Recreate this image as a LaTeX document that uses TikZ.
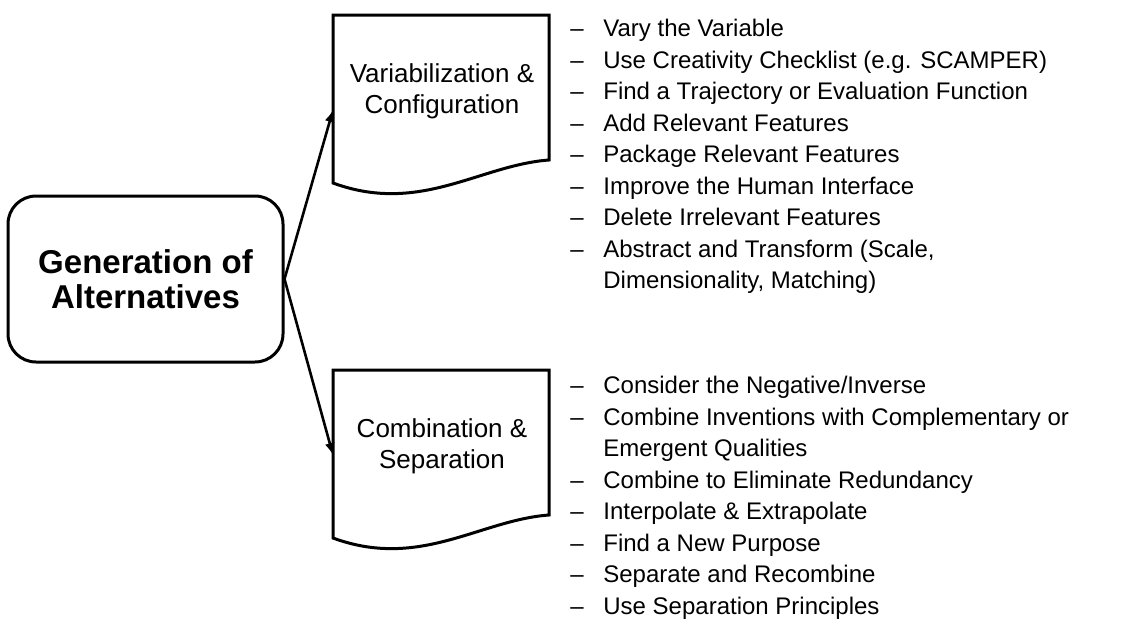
\documentclass[tikz,border=0pt]{standalone}
\usepackage{fontspec}
\setmainfont{Liberation Sans}
\usetikzlibrary{arrows.meta}

\tikzset{
  genbox/.style={draw,line width=1.5pt,rounded corners=14pt,minimum width=137.5pt,minimum height=83pt,align=center,font=\fontsize{16.5}{17.5}\selectfont\bfseries},
  docline/.style={line width=1.5pt},
  doctext/.style={align=center,font=\fontsize{13}{15.5}\selectfont},
  listtext/.style={align=left,inner sep=0pt,anchor=north west,font=\fontsize{12}{15.75}\selectfont},
  arr/.style={line width=1.3pt,-{Latex[length=6pt,width=5pt]}}
}
\newcommand{\dashitem}{\makebox[16.5pt][l]{–}}
\newcommand{\contitem}{\makebox[16.5pt][l]{}}

\begin{document}
\begin{tikzpicture}[x=0.5pt,y=-0.5pt]
\useasboundingbox (0,0) rectangle (1126,618);
\node[genbox] (gen) at (145.5,279) {Generation of\\Alternatives};
% document shapes
\foreach \t in {15,370}
  \draw[docline] (333,\t) -- (549,\t) -- (549,\t+145) .. controls (480,\t+150) and (420,\t+200) .. (333,\t+168) -- cycle;
\node[doctext] (varconf) at (442,91) {Variabilization \&\\Configuration};
\node[doctext] (combsep) at (442,446) {Combination \&\\Separation};
\coordinate (varconf-in) at (333,110);
\coordinate (combsep-in) at (333,455);
\draw[arr] (gen.east) -- (varconf-in);
\draw[arr] (gen.east) -- (combsep-in);
% lists
\node[listtext] (varlist) at (570,19) {\dashitem Vary the Variable\\
  \dashitem Use Creativity Checklist (e.g. SCAMPER)\\
  \dashitem Find a Trajectory or Evaluation Function\\
  \dashitem Add Relevant Features\\
  \dashitem Package Relevant Features\\
  \dashitem Improve the Human Interface\\
  \dashitem Delete Irrelevant Features\\
  \dashitem Abstract and Transform (Scale,\\
  \contitem Dimensionality, Matching)};
\node[listtext] (comblist) at (570,376) {\dashitem Consider the Negative/Inverse\\
  \dashitem Combine Inventions with Complementary or\\
  \contitem Emergent Qualities\\
  \dashitem Combine to Eliminate Redundancy\\
  \dashitem Interpolate \& Extrapolate\\
  \dashitem Find a New Purpose\\
  \dashitem Separate and Recombine\\
  \dashitem Use Separation Principles};
\end{tikzpicture}
\end{document}
